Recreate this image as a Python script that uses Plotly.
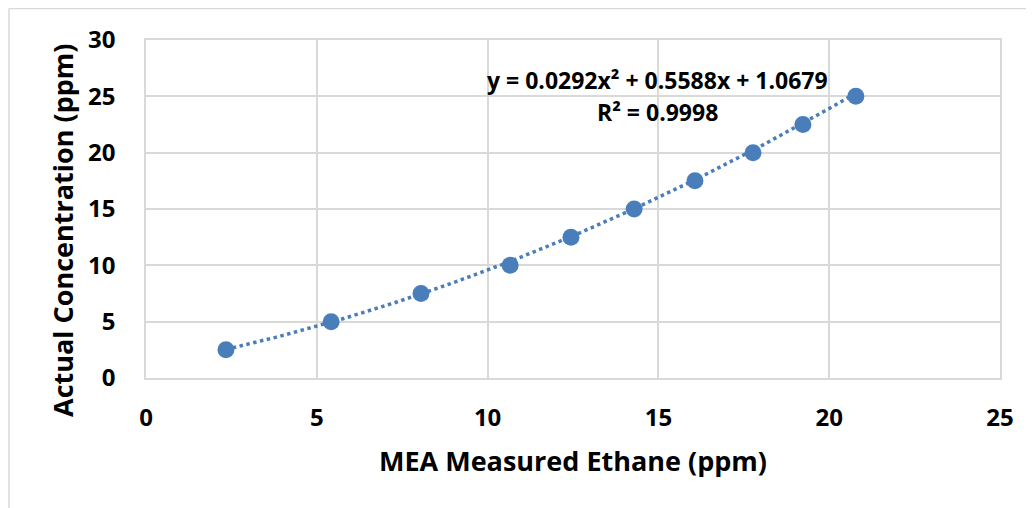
import numpy as np
import plotly.graph_objects as go

measured = [2.34, 5.42, 8.05, 10.66, 12.44, 14.29, 16.07, 17.77, 19.23, 20.78]
actual = [2.5, 5.0, 7.5, 10.0, 12.5, 15.0, 17.5, 20.0, 22.5, 25.0]
coef = [0.0292, 0.5588, 1.0679]
r2 = 0.9998
x_ticks = [0, 5, 10, 15, 20, 25]
y_ticks = [0, 5, 10, 15, 20, 25, 30]
x_title = "MEA Measured Ethane (ppm)"
y_title = "Actual Concentration (ppm)"

blue = "#4a7ebb"
grid = "#d9d9d9"
font = "Open Sans"

xt = np.linspace(min(measured), max(measured), 200)
yt = np.polyval(coef, xt)

fig = go.Figure()
fig.add_trace(go.Scatter(x=xt, y=yt, mode="lines",
                         line=dict(color=blue, width=3.5, dash="dot"),
                         hoverinfo="skip", showlegend=False))
fig.add_trace(go.Scatter(x=measured, y=actual, mode="markers",
                         marker=dict(color=blue, size=17), showlegend=False))

eq_font = dict(family=font, size=23, color="#000000", weight="bold")
fig.add_annotation(x=14.96, y=26.45, xref="x", yref="y", showarrow=False,
                   text=f"y = {coef[0]}x² + {coef[1]}x + {coef[2]}", font=eq_font)
fig.add_annotation(x=14.96, y=23.6, xref="x", yref="y", showarrow=False,
                   text=f"R² = {r2}", font=eq_font)

W, H = 1034, 508
L, R, T, B = 138, 42, 32, 138
pw, ph = W - L - R, H - T - B

fig.add_annotation(x=(54 - L) / pw, y=1 - (222 - T) / ph, xref="paper", yref="paper",
                   text=y_title, textangle=-90, showarrow=False, xanchor="center", yanchor="middle",
                   font=dict(family=font, size=27, color="#000000", weight="bold"))

bx = (1 - L) / pw
by = 1 + (T - 0.5) / ph
fig.add_shape(type="line", xref="paper", yref="paper", x0=bx, x1=bx, y0=-1, y1=by,
              line=dict(color=grid, width=1.5))
fig.add_shape(type="line", xref="paper", yref="paper", x0=bx, x1=2, y0=by, y1=by,
              line=dict(color=grid, width=1.5))

fig.update_layout(
    width=W, height=H,
    margin=dict(l=L, r=R, t=T, b=B),
    paper_bgcolor="white", plot_bgcolor="white",
    font=dict(family=font, color="#000000"),
    xaxis=dict(range=[0, 25], tickvals=x_ticks, showgrid=True, gridcolor=grid, gridwidth=1.5,
               showline=True, linecolor=grid, linewidth=1.5, mirror=True, zeroline=False,
               tickfont=dict(size=24, weight="bold"), ticklabelstandoff=17,
               title=dict(text=x_title, font=dict(size=27, weight="bold"), standoff=21)),
    yaxis=dict(range=[0, 30], tickvals=y_ticks, showgrid=True, gridcolor=grid, gridwidth=1.5,
               showline=True, linecolor=grid, linewidth=1.5, mirror=True, zeroline=False,
               tickfont=dict(size=24, weight="bold"), ticklabelstandoff=24),
)
fig.write_html("out.html")
